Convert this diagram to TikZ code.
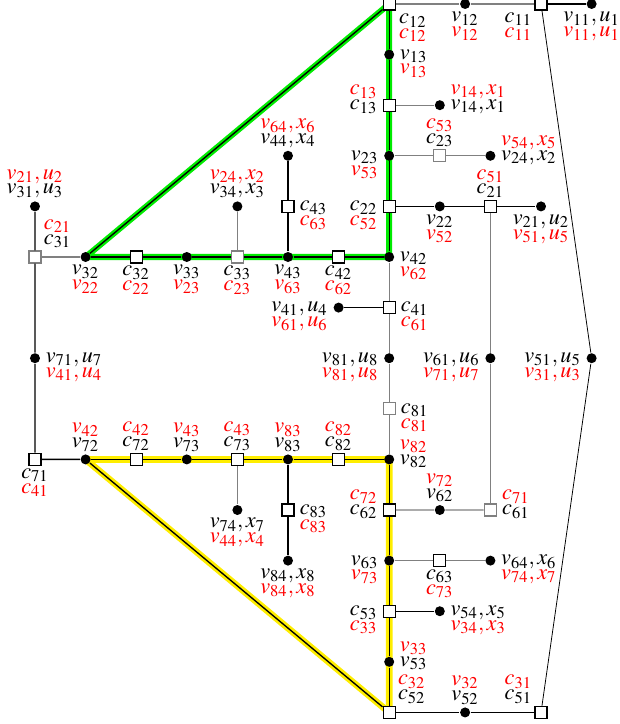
\documentclass[tikz,border=0pt]{standalone}
\usepackage{mathptmx}
\usetikzlibrary{backgrounds}

\definecolor{hlgreen}{RGB}{0,235,0}
\definecolor{hlyellow}{RGB}{255,238,0}

% two-line labels: black over red, red over black
\newcommand{\br}[2]{$#1$\\[-5.3pt]\textcolor{red}{$#2$}}
\newcommand{\rb}[2]{\textcolor{red}{$#1$}\\[-5.3pt]$#2$}

\begin{document}
\begin{tikzpicture}[node distance=0.8cm, line width=0.6pt,
                    var node/.style={circle,fill,inner sep=0pt,minimum size=4.5pt},
                    chk node/.style={rectangle,draw,fill=white,inner sep=0pt,minimum size=5.4pt},
                    every label/.style={inner sep=0.5pt,align=center},
                    lab below/.style={label={[label distance=0.3pt]below:\br#1}},
                    lab below left/.style={label={[label distance=0.3pt]below left:\br#1}},
                    lab below right/.style={label={[label distance=1pt]below right:\br#1}},
                    lab above/.style={label={[label distance=0.3pt]above:\rb#1}},
                    lab above left/.style={label={[label distance=0.3pt]above left:\rb#1}},
                    lab above right/.style={label={[label distance=0.3pt]above right:\rb#1}},
                    lab right/.style={label={[yshift=-4pt,label distance=1.5pt]right:\br#1}},
                    lab left/.style={label={[yshift=-4pt,label distance=1.5pt]left:\br#1}},
                    lab right up/.style={label={[yshift=2.6pt,label distance=1.5pt]right:\rb#1}},
                    lab left up/.style={label={[yshift=2.6pt,label distance=1.5pt]left:\rb#1}},
                    gray edge/.style={draw=gray}]
\useasboundingbox (-0.553,0.063) rectangle (9.233,-11.383);

% middle column
\node[chk node,lab below right={{c_{12}}{c_{12}}}] (c12) at (5.6,0) {};
  \node[var node,lab right={{v_{13}}{v_{13}}}] (v13) [below of=c12] {};
  \node[chk node,lab left up={{c_{13}}{c_{13}}}] (c13) [below of=v13] {};
  \node[var node,lab left={{v_{23}}{v_{53}}}] (v23) [below of=c13] {};
  \node[chk node,lab left={{c_{22}}{c_{52}}}] (c22) [below of=v23] {};
  \node[var node,lab right={{v_{42}}{v_{62}}}] (v42) [below of=c22] {};
  \node[chk node,lab right={{c_{41}}{c_{61}}}] (c41) [below of=v42] {};
  \node[var node,lab left={{v_{81},u_8}{v_{81},u_8}}] (v81) [below of=c41] {};
  \node[chk node,draw=gray,lab right={{c_{81}}{c_{81}}}] (c81) [below of=v81] {};
  \node[var node,lab right up={{v_{82}}{v_{82}}}] (v82) [below of=c81] {};
  \node[chk node,lab left up={{c_{72}}{c_{62}}}] (c62) [below of=v82] {};
  \node[var node,lab left={{v_{63}}{v_{73}}}] (v63) [below of=c62] {};
  \node[chk node,lab left={{c_{53}}{c_{33}}}] (c53) [below of=v63] {};
  \node[var node,lab right up={{v_{33}}{v_{53}}}] (v53) [below of=c53] {};
  \node[chk node,lab above right={{c_{32}}{c_{52}}}] (c52) [below of=v53] {};

% right part
\node[var node,lab below={{v_{12}}{v_{12}}}] (v12) [right of=c12,node distance=1.2cm] {};
  \node[chk node,lab below left={{c_{11}}{c_{11}}}] (c11) [right of=v12,node distance=1.2cm] {};
    \node[var node,lab below={{v_{11},u_1}{v_{11},u_1}}] (v11) [right of=c11] {};
\node[var node,lab right up={{v_{14},x_1}{v_{14},x_1}}] (v14) [right of=c13] {};
\node[chk node,draw=gray,lab above={{c_{53}}{c_{23}}}] (c23) [right of=v23] {};
  \node[var node,lab right up={{v_{54},x_5}{v_{24},x_2}}] (v24) [right of=c23] {};
\node[var node,lab below={{v_{22}}{v_{52}}}] (v22) [right of=c22] {};
  \node[chk node,lab above={{c_{51}}{c_{21}}}] (c21) [right of=v22] {};
    \node[var node,lab below={{v_{21},u_2}{v_{51},u_5}}] (v21) [right of=c21] {};
\node[var node,lab left={{v_{61},u_6}{v_{71},u_7}}] (v61) [below of=c21,node distance=2.4cm] {};
  \node[chk node,draw=gray,lab right up={{c_{71}}{c_{61}}}] (c61) [below of=v61,node distance=2.4cm] {};
  \node[var node,lab left={{v_{51},u_5}{v_{31},u_3}}] (v51) [right of=v61,node distance=1.6cm] {};
\node[var node,lab above={{v_{72}}{v_{62}}}] (v62) [right of=c62] {};
\node[chk node,lab below={{c_{63}}{c_{73}}}] (c63) [right of=v63] {};
  \node[var node,lab right={{v_{64},x_6}{v_{74},x_7}}] (v64) [right of=c63] {};
\node[var node,lab right={{v_{54},x_5}{v_{34},x_3}}] (v54) [right of=c53] {};
\node[var node,lab above={{v_{32}}{v_{52}}}] (v52) [right of=c52,node distance=1.2cm] {};
  \node[chk node,lab above left={{c_{31}}{c_{51}}}] (c51) [right of=v52,node distance=1.2cm] {};

% left part, upper row
\node[var node,lab left={{v_{41},u_4}{v_{61},u_6}}] (v41) [left of=c41] {};
\node[chk node,lab below={{c_{42}}{c_{62}}}] (c42) [left of=v42] {};
  \node[var node,lab below={{v_{43}}{v_{63}}}] (v43) [left of=c42] {};
  \node[chk node,draw=gray,lab below={{c_{33}}{c_{23}}}] (c33) [left of=v43] {};
  \node[var node,lab below={{v_{33}}{v_{23}}}] (v33) [left of=c33] {};
  \node[chk node,lab below={{c_{32}}{c_{22}}}] (c32) [left of=v33] {};
  \node[var node,lab below={{v_{32}}{v_{22}}}] (v32) [left of=c32] {};
  \node[chk node,draw=gray,lab above right={{c_{21}}{c_{31}}}] (c31) [left of=v32] {};
\node[var node,lab above={{v_{24},x_2}{v_{34},x_3}}] (v34) [above of=c33] {};
\node[chk node,lab right={{c_{43}}{c_{63}}}] (c43) [above of=v43] {};
  \node[var node,lab above={{v_{64},x_6}{v_{44},x_4}}] (v44) [above of=c43] {};
\node[var node,lab above={{v_{21},u_2}{v_{31},u_3}}] (v31) [above of=c31] {};
\node[var node,lab right={{v_{71},u_7}{v_{41},u_4}}] (v71) [below of=c31,node distance=1.6cm] {};
  \node[chk node,lab below={{c_{71}}{c_{41}}}] (c71) [below of=v71,node distance=1.6cm] {};

% left part, lower row
\node[chk node,lab above={{c_{82}}{c_{82}}}] (c82) [left of=v82] {};
  \node[var node,lab above={{v_{83}}{v_{83}}}] (v83) [left of=c82] {};
  \node[chk node,lab above={{c_{43}}{c_{73}}}] (c73) [left of=v83] {};
  \node[var node,lab above={{v_{43}}{v_{73}}}] (v73) [left of=c73] {};
  \node[chk node,lab above={{c_{42}}{c_{72}}}] (c72) [left of=v73] {};
  \node[var node,lab above={{v_{42}}{v_{72}}}] (v72) [left of=c72] {};
\node[var node,lab below={{v_{74},x_7}{v_{44},x_4}}] (v74) [below of=c73] {};
\node[chk node,lab right={{c_{83}}{c_{83}}}] (c83) [below of=v83] {};
  \node[var node,lab below={{v_{84},x_8}{v_{84},x_8}}] (v84) [below of=c83] {};

% highlighted cycles
\begin{scope}[on background layer]
  \draw[hlgreen,line width=2.7pt,line join=round] (v32.center) -- (c12.center) -- (v42.center) -- cycle;
  \draw[hlyellow,line width=3pt,line join=round] (v72.center) -- (v82.center) -- (c52.center) -- cycle;
\end{scope}

% edges
\draw (c12) -- (v13) -- (c13) -- (v23) -- (c22) -- (v42);
\draw (v82) -- (c62) -- (v63) -- (c53) -- (v53) -- (c52);
\draw (v32) -- (c32) -- (v33) -- (c33) -- (v43) -- (c42) -- (v42);
\draw (v72) -- (c72) -- (v73) -- (c73) -- (v83) -- (c82) -- (v82);
\draw (c12) -- (v32);
\draw (v72) -- (c52);
\draw (c11) -- (v11);
\draw (c22) -- (v22) -- (c21) -- (v21);
\draw (v31) -- (c31) -- (v71) -- (c71) -- (v72);
\draw (v43) -- (c43) -- (v44);
\draw (v41) -- (c41);
\draw (c53) -- (v54);
\draw (c52) -- (v52) -- (c51);
\draw (v83) -- (c83) -- (v84);
\draw[gray edge] (c12) -- (v12) -- (c11);
\draw[gray edge] (c13) -- (v14);
\draw[gray edge] (v23) -- (c23) -- (v24);
\draw[gray edge] (c21) -- (v61) -- (c61);
\draw[gray edge] (c31) -- (v32);
\draw[gray edge] (c33) -- (v34);
\draw[gray edge] (v42) -- (c41) -- (v81) -- (c81) -- (v82);
\draw[gray edge] (c62) -- (v62) -- (c61);
\draw[gray edge] (v63) -- (c63) -- (v64);
\draw[gray edge] (c73) -- (v74);
\draw[line width=0.35pt] (c11) -- (v51) -- (c51);

\end{tikzpicture}
\end{document}
